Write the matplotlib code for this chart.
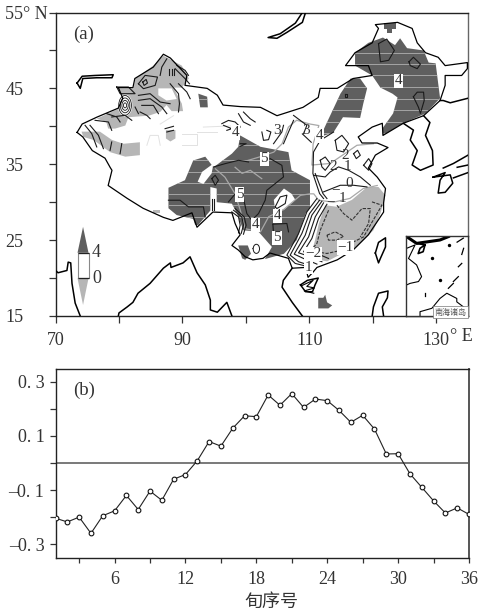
# -*- coding: utf-8 -*-
import matplotlib
matplotlib.use("Agg")
import matplotlib.pyplot as plt
import matplotlib.transforms as mtrans
from matplotlib.patches import Ellipse

plt.rcParams["font.family"] = ["Liberation Serif", "Noto Sans CJK SC", "DejaVu Sans"]

W, H = 478, 614
INK = "#333333"
DARK = "#5f5f5f"
LIGHT = "#b6b6b6"
RIVER = "#a8a8a8"

# ========= panel (b) =========
xun = list(range(1, 37))
corr = [-0.204, -0.218, -0.200, -0.260, -0.195, -0.177, -0.120, -0.172, -0.104, -0.138,
        -0.060, -0.043, 0.008, 0.079, 0.062, 0.128, 0.174, 0.171, 0.251, 0.213,
        0.256, 0.205, 0.236, 0.230, 0.194, 0.150, 0.176, 0.125, 0.033, 0.034,
        -0.040, -0.090, -0.140, -0.185, -0.166, -0.190]

# ========= panel (a), lon/lat =========
china = [(73.4, 39.2), (74.2, 40.3), (76.5, 41.2), (79.9, 42.4), (80.6, 43.7), (79.9, 45.1), (82.2, 45.1),
         (82.5, 46.3), (85.4, 47.8), (87, 49.5), (88.1, 49), (90.7, 46.7), (90.4, 45.4), (93.9, 45), (95.5, 44.1),
         (96.4, 42.8), (99.1, 42.6), (102.3, 42.5), (104.9, 41.4), (109, 42.5), (111.4, 43.8), (111.7, 45),
         (114.4, 45), (116.9, 46.3), (119.9, 46.7), (119.3, 48), (115.7, 48), (117.2, 49.7), (119.9, 51),
         (120.9, 52.9), (120.4, 53.4), (123.9, 53.7), (126.2, 52.9), (127, 51), (128.3, 49.7), (130.3, 49.1),
         (131.4, 48), (134.9, 48.4), (134.9, 47.6), (134.0, 46.7), (131.4, 46.7), (131.4, 45.4), (130.6, 43.4),
         (128, 41.4), (124.8, 40.4), (121.6, 38.8), (121.5, 40.4), (119.9, 39.9), (117.7, 38.6), (118.3, 37.8),
         (120.7, 37.8), (122.4, 37.2), (120.4, 36.2), (119.3, 34.5), (120.7, 33.3), (122, 31.8), (121.7, 29.9),
         (121.7, 28.7), (119.3, 25.7), (116.9, 23.7), (114.4, 22.4), (111.2, 21.4), (110.5, 20.7), (109.8, 20.1),
         (109.4, 21.4), (107.3, 21.3), (106.7, 22.6), (103.8, 23.3), (102.7, 22.6), (101.1, 22.4), (99.9, 22.8),
         (98.8, 23.7), (97.8, 24.3), (99.1, 25.7), (98.3, 27.2), (97.8, 28.6), (94.8, 28.7), (92.3, 26.7),
         (91.5, 28.6), (88.5, 27.6), (87, 28), (83.8, 29.2), (81.3, 30.5), (78.3, 32.2), (78.9, 34.2),
         (78.6, 34.6), (77.8, 35.8), (75.8, 36.8), (74.3, 38.6), (73.4, 39.2)]
korea = [(128, 41.4), (129, 40.5), (128.3, 38.8), (129.4, 36.8), (129.5, 34.9), (127.5, 34.2), (126.2, 34.9),
         (127, 36.8), (125.9, 38.2), (126.4, 39.5), (124.8, 40.4)]
russia_coast = [(135, 43.7), (132.2, 43.1), (131.1, 43.4), (130.6, 43.4)]
india_west = [(70, 21), (70.4, 20.7), (71.8, 21), (72, 22.1), (72.4, 22), (72.6, 19.3), (73.1, 16.7), (73.9, 15)]
india_east = [(79.9, 15), (80, 15.4), (81.3, 16.2), (82.2, 16.8), (83, 18), (84.9, 19.3), (87, 21.3), (88.1, 22),
              (88.2, 21.4), (90.1, 22), (91.2, 22.8), (92.3, 20.7), (93.6, 19.1), (94.4, 17.1), (94.4, 15.8),
              (95.5, 15.5), (97, 16.8), (97.8, 15)]
indochina = [(107.3, 21.3), (105.9, 19.7), (105.7, 18.8), (107.3, 16.8), (108.9, 15)]
hainan = [(108.6, 19.1), (109.7, 19.7), (111.4, 20), (110.9, 19.1), (110.5, 18.2), (109.4, 18.2), (108.6, 19.1)]
taiwan = [(120.4, 23.3), (120.9, 24.7), (122, 25.3), (122, 24.1), (121.2, 22.6), (120.9, 22), (120.4, 23.3)]
luzon = [(119.9, 15), (120.1, 16.2), (120.9, 18), (122.4, 18.3), (122.3, 17.4), (121.5, 16.2), (121.7, 15)]
kyushu = [(129.5, 33.3), (131.4, 33.9), (130.6, 32.9), (130.3, 31.2), (131.4, 31.3), (132.6, 32.5), (132.2, 33.6)]
honshu_a = [(131.1, 34.5), (132.7, 35.1), (135, 36.2)]
honshu_b = [(133.3, 34.6), (135, 34.9)]
shikoku = [(132.7, 33.2), (135, 33.9)]
balkhash = [(73.4, 45.7), (74.2, 46.6), (76.2, 46.7), (79.1, 46.8), (78.9, 46.4), (76.5, 46.4), (74.3, 46.3),
            (73.9, 45), (73.4, 45.7)]
baikal = [(109.4, 55), (108.9, 53.7), (106.5, 52.4), (104.9, 51.6), (103.5, 51.7), (105.4, 52.2), (107.8, 53.6),
          (108.9, 55)]
coasts = [korea, russia_coast, india_west, india_east, indochina, hainan, taiwan, luzon, kyushu + kyushu[:1],
          honshu_a, honshu_b, shikoku, balkhash, baikal]

dark_inner_mongolia = [(111.7, 38.6), (114.9, 44.3), (116.5, 46.3), (118, 46.3), (119.1, 45), (118.5, 43),
                       (118, 41.1), (115.3, 41.2), (113.8, 39.2)]
dark_northeast = [(117.2, 49.7), (119.3, 51), (121.6, 51.7), (123.5, 50.7), (124.3, 51.6), (125.4, 50.3), (128, 50),
                  (128.8, 48.4), (129.9, 48.3), (130.6, 43.7), (128.3, 41.7), (124.8, 40.4), (121.6, 38.8),
                  (121.5, 39.7), (123.2, 41.7), (123.9, 43.8), (123.1, 44.3), (121.2, 45.1), (119.9, 46.7), (117.2, 48)]
dark_north_tip = [(121.7, 53.6), (123.6, 53.6), (123.6, 52.8), (123, 52.8), (123, 52.3), (122.2, 52.3), (122.2, 52.8),
                  (121.7, 52.8)]
dark_main = [(94.9, 34.6), (97.8, 36.4), (98.8, 37.3), (99.1, 38.8), (102.3, 37.3), (106.7, 36.6), (107.2, 34.2),
             (110.1, 32.9), (110.1, 29.2), (109.4, 28.5), (108, 25), (106, 23.2), (103, 22.5), (104.1, 24.1),
             (102, 26.1), (99.6, 26.3), (98.6, 28.5), (97.8, 29.8), (95.4, 30), (95.4, 31.8), (94.4, 32),
             (94.4, 28.9), (92.5, 27), (92, 27), (91.7, 27.8), (89.1, 28.3), (87.8, 29.2), (87.8, 31.9), (90.4, 32.9),
             (91.7, 35.5), (93.6, 36)]
dark_yunnan = [(98.8, 24.3), (100.3, 24.3), (100.8, 23.2), (99.9, 22.4), (99.4, 22.6)]
dark_hami = [(92.5, 44.3), (93.9, 43.9), (94, 42.5), (92.8, 42.5)]
dark_islands = [(111.4, 17.4), (112.2, 17.4), (112.5, 17.8), (112.8, 16.8), (113.6, 16.4), (113, 16), (111.4, 16)]
dark_regions = [dark_inner_mongolia, dark_northeast, dark_north_tip, dark_main, dark_yunnan, dark_hami, dark_islands]

white_notch = [(94.9, 35.1), (94.6, 33.8), (93.3, 32.4), (92.4, 32.7), (93.1, 34)]
white_hole = [(104.4, 30.3), (106, 31.8), (107.2, 31.1), (107.8, 30.3), (106, 29), (104.6, 29)]
white_altai = [(86.2, 45), (88.3, 45), (89.1, 43.6), (87.5, 43.4), (86.2, 44.1)]

light_southeast = [(112.5, 29.6), (111.5, 27.2), (110.9, 25), (110.1, 22.6), (112.8, 22.2), (115.1, 23.2),
                   (117.5, 24.1), (120.1, 26.3), (121.2, 28.5), (122, 30.9), (120.9, 32), (119.1, 32), (116.7, 30.3),
                   (114.3, 29.4)]
light_altai = [(82.6, 46.3), (85.4, 48), (87, 49.3), (89.9, 48), (91, 46.3), (89.9, 45.1), (88.6, 45.1), (89.9, 43),
               (90.1, 42), (88.3, 42), (87.5, 42.8), (86.5, 41.9), (84.7, 41.4), (81.5, 41.2), (81, 40.1),
               (79.4, 39.7), (78.3, 39.7), (78, 40.6), (76.5, 41), (79.9, 42.3), (80.7, 43.6), (79.9, 45), (82.3, 45)]
light_kunlun = [(74.1, 39.3), (77, 39.3), (78.9, 38.2), (80.7, 37.7), (83.3, 37.9), (83.3, 36.2), (81, 36),
                (78.6, 36.6), (76, 38.2), (74.4, 38.6)]
light_patch = [(87.4, 39.5), (88.9, 39.5), (88.9, 38.4), (88.1, 38), (87.4, 38.4)]
light_small = [(85.4, 29), (86.4, 29), (86.4, 28.6), (85.4, 28.6)]
light_regions = [light_southeast, light_altai, light_kunlun, light_patch, light_small]

# faint stepped outlines left in the white part of Xinjiang
faint_steps = [
    [(84.4, 37.5), (84.9, 38.8), (86.2, 38.8), (86.5, 37.5)],
    [(89.9, 39), (92.3, 39), (92.3, 37.5), (89.9, 37.5)],
    [(92.3, 39.3), (95.4, 39.3)],
    [(86.5, 40.3), (88.6, 41.4)],
    [(93.3, 39.9), (99.1, 40.1)],
]

# solid isolines
iso_south = [
    [(111.19, 30.48), (109.61, 28.72), (108.3, 25.87), (106.46, 23.02), (107.77, 21.93), (109.88, 21.49)],
    [(111.61, 30.26), (110.03, 28.5), (108.82, 25.87), (106.98, 23.02), (108.3, 22.15), (110.4, 21.58)],
    [(111.98, 30.13), (110.4, 28.29), (109.35, 25.65), (107.62, 23.15), (109.09, 22.58), (111.19, 21.84)],
    [(112.24, 29.91), (110.93, 28.07), (109.88, 25.43), (108.3, 23.33), (109.88, 22.89), (111.98, 22.15)],
    [(112.77, 29.73), (111.45, 27.85), (110.4, 25.22), (109.09, 23.46), (110.93, 23.33), (113.03, 22.58)],
]
iso_east = [
    [(113.82, 39.25), (111.72, 38.15), (110.66, 36.62), (110.56, 33.77), (111.61, 31.14), (112.24, 30.48)],
    [(110.93, 33.77), (112.14, 31.14), (112.77, 30.48)],
    [(114.08, 38.15), (115.13, 38.81), (116.19, 37.72), (115.4, 36.62), (114.35, 36.84), (114.08, 38.15)],
    [(111.72, 35.52), (112.5, 35.96), (113.29, 35.08), (112.5, 34.2), (111.98, 34.65), (111.72, 35.52)],
    [(116.97, 36.4), (117.6, 36.84), (118.03, 36.18), (117.4, 35.74), (116.97, 36.4)],
    [(110.66, 33.55), (112.5, 33.33), (113.29, 33.99), (114.61, 34.65), (116.19, 34.2), (118.03, 33.33), (119.6, 32.23)],
    [(112.24, 31.36), (114.87, 32.23), (116.97, 32.23), (119.08, 32.01)],
    [(118.55, 34.86), (119.34, 35.74), (119.87, 35.08), (119.34, 34.21), (118.55, 34.86)],
]
iso_northeast = [
    [(120.9, 50.9), (122.2, 51.5), (123.4, 50), (122.5, 48.7), (121.2, 48.5), (120.9, 50.9)],
    [(125.7, 48.5), (126.4, 49.1), (127.5, 48.2), (127, 47.6), (125.9, 48), (125.7, 48.5)],
    [(126.4, 43.9), (127, 44.5), (128, 44.5), (128.1, 43.4), (127.5, 41.7), (127.2, 42.5), (126.4, 43.9)],
    [(115.6, 44.3), (116, 44.3), (116, 43.8), (115.6, 43.8), (115.6, 44.3)],
]
iso_xinjiang = [
    [(83.07, 45.61), (84.12, 46.71), (86.07, 46.49), (85.7, 45.39), (83.86, 44.96), (83.07, 45.61)],
    [(83.75, 45.83), (84.28, 46.18), (84.49, 45.7), (83.96, 45.39), (83.75, 45.83)],
    [(87.96, 47.59), (87.96, 46.71)], [(88.33, 47.59), (88.33, 46.71)], [(88.69, 47.59), (88.69, 46.71)],
    [(87.54, 48.9), (86.75, 47.81), (86.49, 46.71)],
    [(89.11, 48.03), (90.43, 47.37), (90.95, 46.71)],
    [(88.85, 47.59), (90.43, 46.27), (91.11, 45.61)],
    [(88.06, 45.61), (89.38, 44.3), (89.53, 42.98), (89.38, 41.89)],
    [(89.38, 45.61), (90.69, 44.52), (91.22, 43.64)],
    [(79.65, 45.18), (81.49, 45.18), (82.54, 44.3), (80.18, 44.3), (79.65, 45.18)],
    [(83.07, 44.08), (84.91, 44.3), (86.49, 43.2), (88.06, 42.98)],
    [(83.07, 43.42), (84.91, 43.64), (86.75, 42.54), (87.54, 41.67)],
    [(83.59, 42.76), (85.43, 42.76), (86.22, 41.67)],
    [(83.33, 41.89), (84.38, 41.45), (84.91, 41.01)],
    [(82.54, 42.54), (83.07, 41.67)],
    [(78.07, 41.67), (79.65, 41.23), (80.18, 40.57)],
    [(76.23, 40.79), (78.34, 40.57), (78.86, 39.47)],
    [(78.86, 41.23), (80.96, 41.45), (82.02, 40.79)],
    [(87.27, 39.69), (88.59, 40)], [(87.54, 39.25), (88.59, 39.47)],
    [(74.66, 40.13), (75.71, 39.04), (76.5, 37.28)],
    [(75.44, 40.13), (76.76, 38.82), (77.55, 37.06)],
    [(78.86, 37.94), (78.6, 36.84)], [(80.44, 37.72), (80.18, 36.4)],
]
iso_tibet = [
    [(94.89, 34.64), (96.73, 35.08), (98.84, 35.52), (100.41, 35.3)],
    [(103.83, 35.74), (105.67, 34.86), (105.93, 33.33), (103.3, 31.57), (103.04, 30.26), (101.99, 28.5), (100.94, 27.63)],
    [(97.26, 30.04), (98.57, 31.35)],
    [(99.62, 30.48), (100.15, 28.5), (100.94, 27.63)],
    [(87.79, 30.26), (89.63, 30.26), (90.95, 29.38), (93.31, 29.38), (93.58, 28.06)],
    [(94.63, 33.11), (95.16, 33.55), (95.68, 32.89), (95.16, 32.23), (94.63, 33.11)],
    [(94.63, 30.48), (94.63, 28.94)], [(95.05, 30.48), (95.05, 28.94)],
    [(97.78, 28.72), (98.84, 28.06), (99.1, 26.97), (98.84, 25.96)],
    [(98.05, 28.94), (99.36, 28.06), (99.62, 26.97), (99.26, 25.87)],
    [(98.31, 29.16), (99.73, 28.06), (100.04, 26.97), (99.62, 25.78)],
    [(102.52, 39.25), (102.78, 38.15), (103.57, 38.24), (103.94, 39.25), (103.3, 39.47)],
    [(104.25, 27.1), (106.46, 27.19), (106.72, 26.09)], [(104.25, 27.1), (104.36, 25.87)],
    [(104.62, 29.38), (105.41, 30.7), (106.46, 30.92), (106.2, 29.82), (104.88, 29.16), (104.62, 29.38)],
    [(101.15, 23.9), (101.6, 24.2), (102.1, 23.9), (101.6, 23.5), (101.15, 23.9)],
    [(96.21, 40.35), (97.26, 40.78), (98.31, 40.57), (99.1, 39.91)],
    [(96.47, 40.13), (97.78, 39.69), (97, 39.47)],
    [(99.1, 37.71), (100.04, 37.71), (99.1, 37.36)],
    [(98.84, 41.66), (99.62, 40.57), (100.68, 40.13)],
    [(99.62, 41.88), (100.68, 41), (101.46, 40.57)],
    [(104.36, 37.71), (105.67, 39.25), (105.93, 40.13)],
    [(107.51, 40.78), (106.72, 39.25), (105.93, 37.71)],
    [(107.51, 41.44), (109.61, 40.13), (109.09, 39.03)],
    [(108.9, 39), (110.3, 37.9)],
]
# dashed negative isolines
iso_dashed = [
    [(113.03, 28.94), (111.72, 26.31), (111.19, 24.56), (110.14, 23.59), (112.77, 23.24), (115.13, 23.68)],
    [(112.77, 25.65), (114.08, 26.09), (115.4, 25.52), (114.35, 25), (113.03, 25), (112.77, 25.65)],
    [(119.87, 30.04), (121.44, 29.6), (119.6, 26.97), (118.55, 25.43), (115.92, 24.34), (115.13, 23.68)],
    [(114.35, 29.6), (115.4, 28.5), (116.71, 27.63), (118.29, 29.16), (119.6, 29.16), (119.34, 27.19), (118.03, 25.43)],
]
hainan_scribble = [(108.8, 19), (110.6, 19.7), (109.6, 18.9), (110.8, 18.7), (109.2, 18.3), (110.7, 18)]
bullseye_xy = (80.96, 42.76)
bullseye_radii = [0.25, 0.5, 0.75, 1.0]
ring_xy = (101.65, 23.85)

yellow_river = [(100.3, 35.5), (102.3, 36), (104.4, 36.6), (105.7, 37.7), (106.7, 39.9), (108, 40.8), (110.1, 40.3),
                (111.5, 40.1), (110.6, 37.7), (110.4, 34.9), (113.3, 35.1), (117.5, 37.5), (120.1, 37.7)]
yellow_branch = [(98.3, 34.6), (99.4, 33.8), (100.7, 34.2), (102.5, 33.1)]
yangtze = [(95.2, 34.4), (96.7, 33.3), (98.3, 31.1), (99.1, 29), (99.9, 26.5), (102.3, 26.1), (103.6, 28.1),
           (105.9, 29), (108.6, 30.9), (110.1, 31.1), (110.7, 31.1), (111.45, 30.26), (113.8, 30), (116.4, 30.5),
           (118.5, 31.8), (120.7, 32.2)]
scan_lats = [37.6, 39.1, 40.6, 42.1, 43.6, 45.2, 46.7, 48.2, 49.7, 28, 29.6, 31.1, 32.5, 34, 35.6]

map_labels = [(124.1, 46, "4", True), (104.9, 39.5, "3", False), (109.5, 39.5, "3", False), (111.6, 38.8, "4", True),
              (98.3, 39.2, "4", True), (102.9, 35.7, "5", True), (99, 31, "5", True), (101.5, 27, "4", True),
              (105, 28.2, "4", True), (104.9, 25.3, "5", True), (113.8, 34.65, "2", False), (115.7, 36.2, "2", False),
              (116, 34.7, "1", False), (116.3, 32.4, "0", False), (114.1, 31.6, "\u2212", False),
              (115.3, 30.5, "1", False), (113.3, 30, "\u2212", False), (115.7, 24, "\u22121", True),
              (110.6, 23.2, "\u22122", True), (109.9, 21.45, "1", True)]

# colour key
key_lon = [73.47, 74.34, 75.2]
key_lat = [16.45, 19.96, 23.33, 26.75]
key_labels = ["0", "4"]

# inset: South China Sea
inset_thick = [(105.3, 25.8), (108.5, 23.6), (116, 24.7), (118.7, 25.8)]
inset_hook = [(108.5, 23.6), (111.2, 23.1), (110.6, 20.9), (109, 20.3), (109.6, 22), (111.2, 23.1)]
inset_west = [(105.3, 22), (108, 23.1), (105.9, 18.7), (108.5, 16.6), (110.1, 12.8), (109.1, 11.2), (106.4, 10.6),
              (105.3, 10.1)]
inset_south = [(109.6, 0), (109.6, 1.4), (113.4, 2.5), (116, 5.7), (118.2, 7.4), (121.4, 5.7), (121.4, 4.6),
               (124, 2.6)]
inset_bits = [[(120.3, 11.2), (121.9, 12.8)], [(118.7, 9), (120.3, 10.6)], [(123, 17.1), (121.9, 16)],
              [(121.5, 24), (123.5, 25.3)], [(123, 20), (123.6, 22)], [(111.1, 6.6), (111.1, 7.5)]]
inset_dots_lon = [118.9, 113.6, 116]
inset_dots_lat = [23, 18.7, 11.7]

fig = plt.figure(figsize=(W / 100, H / 100), dpi=100)


def add_axes_px(left, top, right, bottom):
    return fig.add_axes([left / W, 1 - bottom / H, (right - left) / W, (bottom - top) / H])


def line(ax, pts, **kw):
    ax.plot([p[0] for p in pts], [p[1] for p in pts], **kw)


def fill(ax, pts, color, z):
    ax.fill([p[0] for p in pts], [p[1] for p in pts], color=color, lw=0, zorder=z)


# ---- map panel
ax = add_axes_px(55.5, 12.5, 468, 316)
ax.set_xlim(70, 135)
ax.set_ylim(15, 55)

for pts in faint_steps:
    line(ax, pts, color="#e2e2e2", lw=0.7, zorder=0.5)
for poly in light_regions:
    fill(ax, poly, LIGHT, 1)
fill(ax, white_altai, "white", 1.5)
for poly in dark_regions:
    fill(ax, poly, DARK, 2)
    # pale scan lines that cross the shaded areas
    patch = ax.fill([p[0] for p in poly], [p[1] for p in poly], color="none", lw=0)[0]
    hl = ax.hlines(scan_lats, 70, 135, color="#b0b0b0", lw=0.6, zorder=2.5)
    hl.set_clip_path(patch)
fill(ax, white_notch, "white", 3)
fill(ax, white_hole, "white", 3)
ax.add_patch(Ellipse(bullseye_xy, 2.3, 2.9, fc="white", ec="none", zorder=3))

line(ax, yellow_river, color=RIVER, lw=0.9, zorder=3.5)
line(ax, yellow_branch, color=RIVER, lw=0.9, zorder=3.5)
line(ax, yangtze, color=RIVER, lw=0.9, zorder=3.5)

for group in [iso_south, iso_east, iso_northeast, iso_xinjiang, iso_tibet]:
    for pts in group:
        line(ax, pts, color="#1a1a1a", lw=0.8, zorder=4)
for pts in iso_dashed:
    line(ax, pts, color="#333333", lw=0.8, ls=(0, (3, 1.2)), zorder=4)
for r in bullseye_radii:
    ax.add_patch(Ellipse(bullseye_xy, 2 * r, 2.6 * r, fc="none", ec="#1a1a1a", lw=0.6, zorder=4))
ax.add_patch(Ellipse(ring_xy, 1.0, 1.2, fc="white", ec="#1a1a1a", lw=0.7, zorder=4))
line(ax, hainan_scribble, color="black", lw=0.8, zorder=4)

line(ax, china, color="black", lw=0.9, zorder=5)
for pts in coasts:
    line(ax, pts, color="black", lw=1.1, zorder=5)

for lon, lat, s, boxed in map_labels:
    kw = {"bbox": dict(fc="white", ec="none", pad=0.6)} if boxed else {}
    ax.text(lon, lat, s, fontsize=11, color=INK, ha="center", va="center", zorder=6, **kw)

# colour key
ax.fill([key_lon[0], key_lon[1], key_lon[2]], [key_lat[2], key_lat[3], key_lat[2]], color=DARK, lw=0, zorder=6)
ax.fill([key_lon[0], key_lon[1], key_lon[2]], [key_lat[1], key_lat[0], key_lat[1]], color=LIGHT, lw=0, zorder=6)
ax.fill([key_lon[0], key_lon[2], key_lon[2], key_lon[0]], [key_lat[1], key_lat[1], key_lat[2], key_lat[2]],
        fc="white", ec="#888888", lw=0.8, zorder=6)
ax.hlines([key_lat[1], key_lat[2]], key_lon[0], key_lon[2], color="#222222", lw=0.9, zorder=7)
ax.text(key_lon[2] + 0.55, key_lat[2], key_labels[1], fontsize=13, color=INK, ha="left", va="center")
ax.text(key_lon[2] + 0.55, key_lat[1], key_labels[0], fontsize=13, color=INK, ha="left", va="center")

ax.text(72.7, 52.1, "(a)", fontsize=13.5, color=INK, ha="left", va="center")

ax.set_xticks(list(range(70, 131, 10)))
ax.set_xticklabels(["70", "", "90", "", "110", "", "130"], fontsize=13, color=INK)
ax.set_yticks(list(range(15, 56, 5)))
ax.set_yticklabels(["15", "", "25", "", "35", "", "45", "", "55\u00b0 N"], fontsize=13, color=INK, ha="left")
ax.tick_params(axis="y", length=5.2, width=0.9, color="#333333", pad=31)
ax.tick_params(axis="x", length=5.2, width=0.9, color="#333333", pad=6)
ax.text(132.1, -0.069, "\u00b0 E", fontsize=13, color=INK, ha="left", va="center",
        transform=mtrans.blended_transform_factory(ax.transData, ax.transAxes))
for side in ["left", "bottom", "top"]:
    ax.spines[side].set_linewidth(1.0)
    ax.spines[side].set_color("#222222")
ax.spines["right"].set_linewidth(1.0)
ax.spines["right"].set_color("#666666")

# ---- inset
axi = add_axes_px(405.7, 236, 468, 316)
axi.set_xlim(105, 125)
axi.set_ylim(0, 26)
axi.set_xticks([])
axi.set_yticks([])
line(axi, inset_thick, color="black", lw=2.2)
line(axi, inset_hook, color="black", lw=1.2)
line(axi, inset_west, color="black", lw=0.8)
line(axi, inset_south, color="black", lw=0.8)
for pts in inset_bits:
    line(axi, pts, color="black", lw=0.9)
axi.scatter(inset_dots_lon, inset_dots_lat, s=6, color="black", lw=0)
axi.text(124.6, 1.3, "南海诸岛", fontsize=5.8, color="#555555", ha="right", va="center",
         family=["Noto Sans CJK SC", "DejaVu Sans"],
         bbox=dict(fc="white", ec="#777777", lw=0.5, pad=1.0))
for s in axi.spines.values():
    s.set_linewidth(1.0)
    s.set_color("#333333")

# ---- series panel
bx = add_axes_px(55.5, 368.7, 469, 557.7)
bx.plot(xun, corr, color="#222222", lw=0.8, marker="o", ms=3.4, mfc="white", mec="#111111", mew=0.8, zorder=3)
bx.axhline(0, color="#555555", lw=1.1, zorder=2)
bx.set_xlim(1, 36)
bx.set_ylim(-0.35, 0.348)
bx.set_xticks(list(range(3, 37, 3)))
bx.set_xticklabels(["", "6", "", "12", "", "18", "", "24", "", "30", "", "36"], fontsize=13, color=INK)
bx.set_yticks([-0.3, -0.2, -0.1, 0, 0.1, 0.2, 0.3])
bx.set_yticklabels(["\u20130. 3", "", "\u20130. 1", "", "0. 1", "", "0. 3"], fontsize=13, color=INK)
bx.tick_params(axis="y", length=4, width=0.9, color="#333333", pad=4)
bx.tick_params(axis="x", length=3.5, width=0.9, color="#333333", pad=6)
bx.text(0.043, 0.885, "(b)", transform=bx.transAxes, fontsize=13.5, color=INK, ha="left", va="center")
bx.set_xlabel("旬序号", fontsize=13, color=INK, family=["Noto Sans CJK SC", "DejaVu Sans"])
bx.xaxis.set_label_coords(0.523, -0.185)
for side in ["left", "bottom", "top"]:
    bx.spines[side].set_linewidth(1.0)
    bx.spines[side].set_color("#222222")
bx.spines["right"].set_linewidth(1.4)
bx.spines["right"].set_color("#555555")

plt.savefig("out.png", dpi=100)
plt.close()
